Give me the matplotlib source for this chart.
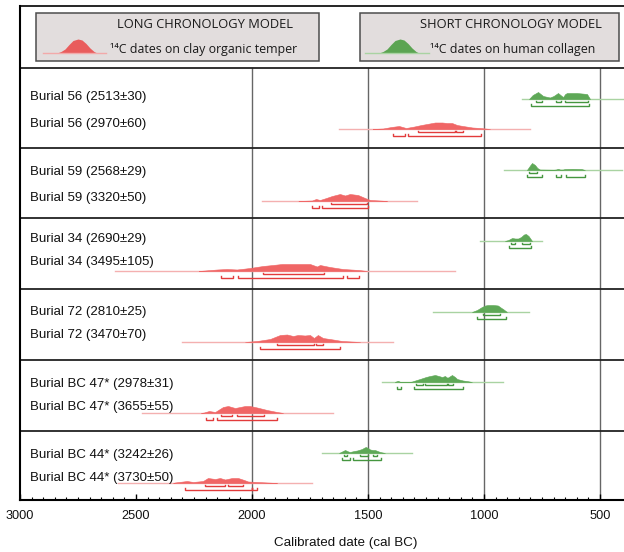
import matplotlib
matplotlib.use('Agg')
import matplotlib.pyplot as plt
from matplotlib.patches import Rectangle

# labels for each burial (short chronology first, long chronology second)
short_labels = ['Burial 56 (2513±30)', 'Burial 59 (2568±29)', 'Burial 34 (2690±29)',
                'Burial 72 (2810±25)', 'Burial BC 47* (2978±31)', 'Burial BC 44* (3242±26)']
long_labels = ['Burial 56 (2970±60)', 'Burial 59 (3320±50)', 'Burial 34 (3495±105)',
               'Burial 72 (3470±70)', 'Burial BC 47* (3655±55)', 'Burial BC 44* (3730±50)']

# short chronology (human collagen) posterior outlines: cal BC and relative height
short_years = [
    [806, 790, 767, 745, 716, 700, 681, 665, 659, 650, 642, 600, 556, 543],
    [815, 800, 793, 780, 770, 759, 700, 690, 681, 672, 660, 651, 620, 580, 565],
    [910, 895, 879, 866, 853, 840, 828, 819, 808, 793],
    [1052, 1030, 1009, 995, 983, 960, 940, 925, 918, 901],
    [1385, 1371, 1360, 1320, 1310, 1290, 1276, 1250, 1233, 1211, 1195, 1181, 1168,
     1160, 1155, 1145, 1138, 1125, 1116, 1091, 1070, 1052],
    [1625, 1612, 1599, 1585, 1578, 1560, 1547, 1526, 1515, 1509, 1500, 1491, 1480,
     1470, 1448, 1427],
]
short_heights = [
    [0, 4, 7, 3, 1.5, 3, 6, 3, 2, 5, 6, 6, 5, 0],
    [0, 5, 7, 5, 2, 0.5, 0.3, 0.5, 1.2, 0.5, 0.5, 1, 1.2, 1, 0],
    [0, 1, 3, 2.5, 2.5, 4, 6.5, 7, 5, 0],
    [0, 2, 5, 6.5, 7, 7, 6.5, 4, 3, 0],
    [0, 1.2, 0, 0, 0.5, 2, 3, 5, 6, 7, 6, 5, 6, 4.5, 4.5, 6, 7, 5, 3, 1.5, 0.8, 0],
    [0, 1.5, 3, 1.5, 1, 2, 2.5, 4, 5.5, 6, 5, 3.5, 3, 3, 1, 0],
]
short_span = [(836, 380), (914, 405), (1017, 750), (1220, 806), (1440, 918), (1698, 1310)]
short_r68 = [
    [(776, 750), (690, 668), (651, 552)],
    [(806, 772)],
    [(884, 866), (836, 802)],
    [(1004, 931)],
    [(1293, 1263), (1254, 1159), (1155, 1134)],
    [(1603, 1591), (1534, 1500), (1478, 1461)],
]
short_r95 = [
    [(797, 547)],
    [(815, 750), (690, 668), (647, 565)],
    [(892, 797)],
    [(1030, 905)],
    [(1375, 1358), (1302, 1091)],
    [(1612, 1578), (1565, 1444)],
]

# long chronology (clay organic temper)
long_years = [
    [1480, 1435, 1400, 1366, 1336, 1300, 1270, 1246, 1211, 1180, 1160, 1138, 1116,
     1091, 1050, 1017, 974],
    [1800, 1741, 1724, 1707, 1680, 1655, 1621, 1599, 1578, 1543, 1513, 1491, 1450, 1418],
    [2230, 2203, 2150, 2108, 2065, 2009, 1953, 1910, 1871, 1800, 1750, 1720, 1707,
     1664, 1608, 1540, 1504],
    [2030, 1978, 1922, 1879, 1849, 1823, 1802, 1772, 1750, 1733, 1716, 1694, 1651,
     1612, 1534],
    [2220, 2207, 2185, 2159, 2125, 2103, 2073, 2030, 2009, 1978, 1935, 1892, 1866],
    [2340, 2332, 2280, 2254, 2211, 2190, 2159, 2138, 2116, 2086, 2060, 2034, 2017,
     1978, 1935, 1892],
]
long_heights = [
    [0, 0.5, 2, 3, 1, 2.5, 4, 5, 6.5, 6.5, 6, 6, 4, 3, 1.5, 1, 0],
    [0, 0.5, 2, 1, 3, 5, 7, 5.5, 7, 6, 3, 1, 0.5, 0],
    [0, 0.5, 1.5, 2, 1.5, 3, 5, 6, 7, 7, 7, 4.5, 6, 4, 2, 1, 0],
    [0, 1, 3, 7, 7.5, 6, 7, 6.5, 7, 4, 7, 4, 2.5, 1, 0],
    [0, 0.5, 2, 1, 6, 7, 5, 7, 7, 5.5, 3, 1, 0],
    [0, 0.5, 2, 1, 2, 5, 4, 5, 3.5, 5, 5, 3, 1.5, 1, 0.5, 0],
]
long_span = [(1625, 802), (1957, 1289), (2591, 1125), (2302, 1392), (2474, 1651), (2578, 1741)]
long_r68 = [
    [(1285, 1125), (1120, 1091)],
    [(1659, 1504)],
    [(1953, 1690)],
    [(1892, 1733), (1724, 1694)],
    [(2134, 2086), (2065, 1948)],
    [(2203, 2116), (2103, 2039)],
]
long_r95 = [
    [(1392, 1341), (1328, 1013)],
    [(1741, 1711), (1698, 1500)],
    [(2134, 2082), (2060, 1608), (1591, 1539)],
    [(1966, 1621)],
    [(2198, 2168), (2151, 1892)],
    [(2289, 2000), (2000, 1978)],
]

# legend bell icon (offset from peak, height)
icon_offsets = [-21, -17, -13, -9, -5, 0, 4, 8, 12, 16, 19]
icon_heights = [0, 1.5, 4, 8.5, 12.5, 14, 13, 9.5, 5, 1.5, 0]

# layout in pixels (y from top)
W, H = 624, 552
PX_PER_YR = 0.232
panel_edges = [68, 148, 218, 289, 360, 431]
short_base = [99, 170, 241, 312, 382, 453]
long_base = [129, 201, 271, 342, 413, 483]
short_label_y = [97, 172, 239, 312, 384, 455]
long_label_y = [124, 198, 262, 335, 407, 478]

RED = '#f06666'
RED_DARK = '#e23b3b'
RED_LIGHT = '#f4b0b0'
GREEN = '#5ea857'
GREEN_DARK = '#45963f'
GREEN_LIGHT = '#a9d3a2'

fig = plt.figure(figsize=(W / 100, H / 100), dpi=100)
ax = fig.add_axes([20 / W, 52 / H, 604 / W, 494 / H])
ax.set_xlim(3000, 3000 - 604 / PX_PER_YR)
ax.set_ylim(500, 6)

for x in [2000, 1500, 1000, 500]:
    ax.plot([x, x], [68, 500], color='#666666', lw=1, zorder=1)
for y in panel_edges:
    ax.axhline(y, color='#222222', lw=1.3, zorder=1)


def draw_dist(yrs, hts, span, r68, r95, base, fill, dark, light):
    ax.plot(span, [base, base], color=light, lw=1, zorder=2)
    ax.fill_between(yrs, base, [base - h for h in hts], color=fill, lw=0.4, zorder=3)
    for ranges, off in [(r68, 3), (r95, 6.5)]:
        for a, b in ranges:
            yb = base + off
            ax.plot([a, a, b, b], [yb - 1.3, yb, yb, yb - 1.3], color=dark, lw=1.0,
                    solid_joinstyle='miter', zorder=3)


for i in range(6):
    draw_dist(short_years[i], short_heights[i], short_span[i], short_r68[i], short_r95[i],
              short_base[i], GREEN, GREEN_DARK, GREEN_LIGHT)
    draw_dist(long_years[i], long_heights[i], long_span[i], long_r68[i], long_r95[i],
              long_base[i], RED, RED_DARK, RED_LIGHT)

ax.spines['right'].set_visible(False)
ax.spines['left'].set_linewidth(1.5)
ax.spines['bottom'].set_linewidth(1.5)
ax.spines['top'].set_linewidth(1.2)
ax.set_yticks([])
ax.set_xticks([3000, 2500, 2000, 1500, 1000, 500])
ax.set_xticks(range(550, 3000, 50), minor=True)
ax.tick_params(axis='x', which='major', direction='in', length=4.5, width=1, pad=7,
               labelsize=9.2, labelfontfamily='Liberation Sans', labelcolor='#111111')
ax.tick_params(axis='x', which='minor', direction='in', length=2.4, width=0.8)

# overlay in pixel coordinates for labels and legend
ov = fig.add_axes([0, 0, 1, 1])
ov.set_xlim(0, W)
ov.set_ylim(H, 0)
ov.axis('off')

for i in range(6):
    ov.text(30, short_label_y[i], short_labels[i], fontsize=9.5, family='Liberation Sans',
            va='center', ha='left', color='#111111')
    ov.text(30, long_label_y[i], long_labels[i], fontsize=9.5, family='Liberation Sans',
            va='center', ha='left', color='#111111')

ov.text(346, 543, 'Calibrated date (cal BC)', fontsize=9.6, family='Liberation Sans',
        ha='center', va='center', color='#111111')

legend_items = [
    (36, 319, 'LONG CHRONOLOGY MODEL', '¹⁴C dates on clay organic temper', 117, 110, 78, 43, 106,
     '#e95c5c', '#f2a9a9'),
    (360, 619, 'SHORT CHRONOLOGY MODEL', '¹⁴C dates on human collagen', 420, 430, 400, 365, 429,
     '#5ba452', '#a9d3a2'),
]
for x0, x1, title, sub, tx, sx, peak, b0, b1, col, lcol in legend_items:
    ov.add_patch(Rectangle((x0, 13), x1 - x0, 48, facecolor='#e2dddd', edgecolor='#4d4d4d',
                           lw=1.1))
    ov.text(tx, 24, title, fontsize=9.25, family=['Open Sans', 'DejaVu Sans'], ha='left',
            va='center', color='#1a1a1a')
    ov.text(sx, 50, sub, fontsize=8.9, family=['Open Sans', 'DejaVu Sans'], ha='left',
            va='center', color='#1a1a1a')
    ov.plot([b0, b1], [53, 53], color=lcol, lw=1)
    ov.fill_between([peak + o for o in icon_offsets], 53, [53 - h for h in icon_heights],
                    color=col, lw=0)

fig.savefig('out.png', dpi=100)
